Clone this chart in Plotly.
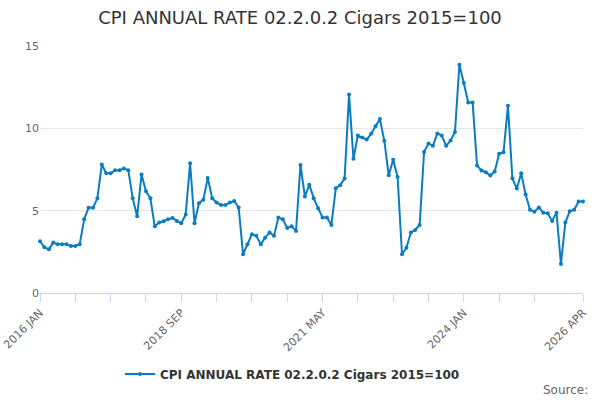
import plotly.graph_objects as go

# monthly annual rate, 2016 JAN .. 2026 APR
rates = [
    3.15, 2.78, 2.65, 3.06, 2.96, 2.96, 2.96, 2.86, 2.86, 2.96,
    4.48, 5.17, 5.17, 5.75, 7.80, 7.27, 7.27, 7.46, 7.46, 7.56,
    7.46, 5.75, 4.66, 7.19, 6.18, 5.75, 4.05, 4.28, 4.36, 4.48,
    4.56, 4.38, 4.24, 4.76, 7.88, 4.24, 5.45, 5.67, 6.99, 5.75,
    5.49, 5.35, 5.35, 5.49, 5.59, 5.19, 2.35, 2.96, 3.57, 3.47,
    2.96, 3.36, 3.67, 3.47, 4.58, 4.48, 3.95, 4.05, 3.77, 7.78,
    5.86, 6.58, 5.75, 5.15, 4.58, 4.58, 4.13, 6.36, 6.55, 6.95,
    12.06, 8.15, 9.56, 9.44, 9.32, 9.67, 10.13, 10.56, 9.24, 7.15,
    8.09, 7.05, 2.35, 2.75, 3.67, 3.83, 4.13, 8.57, 9.08, 8.94,
    9.69, 9.56, 8.94, 9.26, 9.77, 13.86, 12.75, 11.57, 11.57, 7.74,
    7.44, 7.34, 7.13, 7.38, 8.45, 8.55, 11.37, 6.97, 6.34, 7.27,
    5.98, 5.05, 4.94, 5.19, 4.88, 4.84, 4.38, 4.88, 1.76, 4.28,
    4.97, 5.05, 5.55, 5.55,
]
month_names = ["JAN", "FEB", "MAR", "APR", "MAY", "JUN",
               "JUL", "AUG", "SEP", "OCT", "NOV", "DEC"]
months = ["%d %s" % (2016 + i // 12, month_names[i % 12]) for i in range(len(rates))]
labelled = ["2016 JAN", "2018 SEP", "2021 MAY", "2024 JAN", "2026 APR"]
tick_months = months[0:len(months) - 8:8] + [months[-1]]

series_name = "CPI ANNUAL RATE 02.2.0.2 Cigars 2015=100"
blue = "#0a7cc1"
grey = "#666666"

fig = go.Figure(go.Scatter(
    x=months, y=rates, mode="lines+markers", name=series_name,
    line=dict(color=blue, width=2), marker=dict(color=blue, size=4),
    cliponaxis=False,
))

fig.update_layout(
    width=600, height=400,
    font=dict(family="DejaVu Sans", color=grey, size=11),
    title=dict(text=series_name, x=0.5, xanchor="center", y=0.955, yanchor="middle",
               font=dict(size=18, color="#333333")),
    margin=dict(l=40, r=17, t=46, b=107),
    plot_bgcolor="white", paper_bgcolor="white",
    showlegend=True,
    legend=dict(orientation="h", x=0.465, xanchor="center", y=-0.328, yanchor="middle",
                font=dict(size=12, color="#333333", family="DejaVu Sans", weight="bold")),
    annotations=[dict(text="Source:", xref="paper", yref="paper", x=1.013, y=-0.393,
                      xanchor="right", yanchor="middle", showarrow=False,
                      font=dict(size=12, color=grey))],
)
fig.update_xaxes(
    type="category", range=[0, len(months) - 1], automargin=False,
    tickvals=tick_months,
    ticktext=[m if m in labelled else "" for m in tick_months],
    tickangle=-45, ticks="outside", ticklen=8, tickcolor="#ccd6eb",
    showline=True, linecolor="#ccd6eb", linewidth=1, showgrid=False,
    tickfont=dict(size=11, color=grey),
)
fig.update_yaxes(
    range=[0, 15], tickvals=[0, 5, 10, 15], showgrid=True, gridcolor="#e6e6e6",
    zeroline=False, ticks="", automargin=False, tickfont=dict(size=11, color=grey),
)

# drop the default body margin so the chart sits at the page corner
fig.write_html("out.html", config={"displayModeBar": False},
               post_script="document.body.style.margin='0';")
